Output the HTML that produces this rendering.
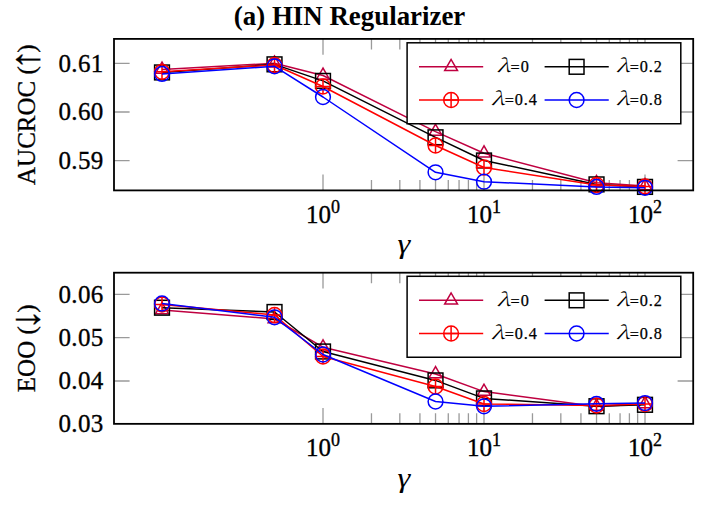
<!DOCTYPE html>
<html><head><meta charset="utf-8"><title>HIN Regularizer</title>
<style>html,body{margin:0;padding:0;background:#fff;}svg{display:block;}</style></head>
<body>
<svg width="720" height="506" viewBox="0 0 720 506">
<rect width="720" height="506" fill="#fff"/>
<text x="233.8" y="25.4" font-size="26.5" font-weight="bold" textLength="231.5" lengthAdjust="spacingAndGlyphs" style="font-family:'Liberation Serif',serif">(a) HIN Regularizer</text>
<path d="M323 190.4V174.6M323 38.9V54.7M484 190.4V174.6M484 38.9V54.7M645 190.4V174.6M645 38.9V54.7M371.47 190.4V179.9M371.47 38.9V49.4M399.82 190.4V179.9M399.82 38.9V49.4M419.93 190.4V179.9M419.93 38.9V49.4M435.53 190.4V179.9M435.53 38.9V49.4M448.28 190.4V179.9M448.28 38.9V49.4M459.06 190.4V179.9M459.06 38.9V49.4M468.4 190.4V179.9M468.4 38.9V49.4M476.63 190.4V179.9M476.63 38.9V49.4M532.47 190.4V179.9M532.47 38.9V49.4M560.82 190.4V179.9M560.82 38.9V49.4M580.93 190.4V179.9M580.93 38.9V49.4M596.53 190.4V179.9M596.53 38.9V49.4M609.28 190.4V179.9M609.28 38.9V49.4M620.06 190.4V179.9M620.06 38.9V49.4M629.4 190.4V179.9M629.4 38.9V49.4M637.63 190.4V179.9M637.63 38.9V49.4M114 63.3H129.6M693.2 63.3H677.6M114 112H129.6M693.2 112H677.6M114 160.7H129.6M693.2 160.7H677.6" stroke="#9a9a9a" stroke-width="1.3" fill="none"/>
<polyline points="162,69.5 274.53,63.3 323,75.5 435.53,131.6 484,153.2 596.53,182.8 645,186" fill="none" stroke="#bf0040" stroke-width="1.5" stroke-linejoin="round"/>
<polygon points="162,62.1 155.59,73.2 168.41,73.2" fill="none" stroke="#bf0040" stroke-width="1.5"/>
<polygon points="274.53,55.9 268.13,67 280.94,67" fill="none" stroke="#bf0040" stroke-width="1.5"/>
<polygon points="323,68.1 316.59,79.2 329.41,79.2" fill="none" stroke="#bf0040" stroke-width="1.5"/>
<polygon points="435.53,124.2 429.13,135.3 441.94,135.3" fill="none" stroke="#bf0040" stroke-width="1.5"/>
<polygon points="484,145.8 477.59,156.9 490.41,156.9" fill="none" stroke="#bf0040" stroke-width="1.5"/>
<polygon points="596.53,175.4 590.13,186.5 602.94,186.5" fill="none" stroke="#bf0040" stroke-width="1.5"/>
<polygon points="645,178.6 638.59,189.7 651.41,189.7" fill="none" stroke="#bf0040" stroke-width="1.5"/>
<polyline points="162,72.45 274.53,64.35 323,80.9 435.53,137.3 484,160.5 596.53,184.4 645,186.9" fill="none" stroke="#000" stroke-width="1.5" stroke-linejoin="round"/>
<rect x="154.6" y="65.05" width="14.8" height="14.8" fill="none" stroke="#000" stroke-width="1.5"/>
<rect x="267.13" y="56.95" width="14.8" height="14.8" fill="none" stroke="#000" stroke-width="1.5"/>
<rect x="315.6" y="73.5" width="14.8" height="14.8" fill="none" stroke="#000" stroke-width="1.5"/>
<rect x="428.13" y="129.9" width="14.8" height="14.8" fill="none" stroke="#000" stroke-width="1.5"/>
<rect x="476.6" y="153.1" width="14.8" height="14.8" fill="none" stroke="#000" stroke-width="1.5"/>
<rect x="589.13" y="177" width="14.8" height="14.8" fill="none" stroke="#000" stroke-width="1.5"/>
<rect x="637.6" y="179.5" width="14.8" height="14.8" fill="none" stroke="#000" stroke-width="1.5"/>
<polyline points="162,71.8 274.53,65 323,86.5 435.53,145.5 484,167.5 596.53,185 645,186.4" fill="none" stroke="#ff0000" stroke-width="1.5" stroke-linejoin="round"/>
<circle cx="162" cy="71.8" r="7.4" fill="none" stroke="#ff0000" stroke-width="1.5"/><path d="M154.6 71.8H169.4M162 64.4V79.2" stroke="#ff0000" stroke-width="1.5"/>
<circle cx="274.53" cy="65" r="7.4" fill="none" stroke="#ff0000" stroke-width="1.5"/><path d="M267.13 65H281.93M274.53 57.6V72.4" stroke="#ff0000" stroke-width="1.5"/>
<circle cx="323" cy="86.5" r="7.4" fill="none" stroke="#ff0000" stroke-width="1.5"/><path d="M315.6 86.5H330.4M323 79.1V93.9" stroke="#ff0000" stroke-width="1.5"/>
<circle cx="435.53" cy="145.5" r="7.4" fill="none" stroke="#ff0000" stroke-width="1.5"/><path d="M428.13 145.5H442.93M435.53 138.1V152.9" stroke="#ff0000" stroke-width="1.5"/>
<circle cx="484" cy="167.5" r="7.4" fill="none" stroke="#ff0000" stroke-width="1.5"/><path d="M476.6 167.5H491.4M484 160.1V174.9" stroke="#ff0000" stroke-width="1.5"/>
<circle cx="596.53" cy="185" r="7.4" fill="none" stroke="#ff0000" stroke-width="1.5"/><path d="M589.13 185H603.93M596.53 177.6V192.4" stroke="#ff0000" stroke-width="1.5"/>
<circle cx="645" cy="186.4" r="7.4" fill="none" stroke="#ff0000" stroke-width="1.5"/><path d="M637.6 186.4H652.4M645 179V193.8" stroke="#ff0000" stroke-width="1.5"/>
<polyline points="162,73.9 274.53,66.3 323,97 435.53,172.3 484,181.7 596.53,186.9 645,187.8" fill="none" stroke="#0000ff" stroke-width="1.5" stroke-linejoin="round"/>
<circle cx="162" cy="73.9" r="7.4" fill="none" stroke="#0000ff" stroke-width="1.5"/>
<circle cx="274.53" cy="66.3" r="7.4" fill="none" stroke="#0000ff" stroke-width="1.5"/>
<circle cx="323" cy="97" r="7.4" fill="none" stroke="#0000ff" stroke-width="1.5"/>
<circle cx="435.53" cy="172.3" r="7.4" fill="none" stroke="#0000ff" stroke-width="1.5"/>
<circle cx="484" cy="181.7" r="7.4" fill="none" stroke="#0000ff" stroke-width="1.5"/>
<circle cx="596.53" cy="186.9" r="7.4" fill="none" stroke="#0000ff" stroke-width="1.5"/>
<circle cx="645" cy="187.8" r="7.4" fill="none" stroke="#0000ff" stroke-width="1.5"/>
<rect x="114" y="38.9" width="579.2" height="151.5" fill="none" stroke="#000" stroke-width="1.8"/>
<rect x="407.1" y="42.8" width="273.7" height="80.95" fill="#fff" stroke="#000" stroke-width="1.5"/>
<path d="M419 66.8H483.2" stroke="#bf0040" stroke-width="1.5"/>
<polygon points="451.1,59.4 444.69,70.5 457.51,70.5" fill="none" stroke="#bf0040" stroke-width="1.5"/>
<text transform="translate(496.8 72.1) scale(1.3 1)" font-style="italic" font-size="18.3" style="font-family:'Noto Serif CJK JP','Liberation Serif',serif">λ</text>
<text x="510.6" y="72.1" font-size="16.2" letter-spacing="0.95" stroke="#000" stroke-width="0.25" style="font-family:'Liberation Serif',serif"><tspan dy="0.9">=</tspan><tspan dy="-0.9">0</tspan></text>
<path d="M544.6 66.8H608.75" stroke="#000" stroke-width="1.5"/>
<rect x="569.2" y="59.4" width="14.8" height="14.8" fill="none" stroke="#000" stroke-width="1.5"/>
<text transform="translate(615.9 72.1) scale(1.3 1)" font-style="italic" font-size="18.3" style="font-family:'Noto Serif CJK JP','Liberation Serif',serif">λ</text>
<text x="629.7" y="72.1" font-size="16.2" letter-spacing="0.95" stroke="#000" stroke-width="0.25" style="font-family:'Liberation Serif',serif"><tspan dy="0.9">=</tspan><tspan dy="-0.9">0.2</tspan></text>
<path d="M419 100H483.2" stroke="#ff0000" stroke-width="1.5"/>
<circle cx="451.1" cy="100" r="7.4" fill="none" stroke="#ff0000" stroke-width="1.5"/><path d="M443.7 100H458.5M451.1 92.6V107.4" stroke="#ff0000" stroke-width="1.5"/>
<text transform="translate(490.9 105.3) scale(1.3 1)" font-style="italic" font-size="18.3" style="font-family:'Noto Serif CJK JP','Liberation Serif',serif">λ</text>
<text x="504.7" y="105.3" font-size="16.2" letter-spacing="0.95" stroke="#000" stroke-width="0.25" style="font-family:'Liberation Serif',serif"><tspan dy="0.9">=</tspan><tspan dy="-0.9">0.4</tspan></text>
<path d="M544.6 100H608.75" stroke="#0000ff" stroke-width="1.5"/>
<circle cx="576.6" cy="100" r="7.4" fill="none" stroke="#0000ff" stroke-width="1.5"/>
<text transform="translate(615.9 105.3) scale(1.3 1)" font-style="italic" font-size="18.3" style="font-family:'Noto Serif CJK JP','Liberation Serif',serif">λ</text>
<text x="629.7" y="105.3" font-size="16.2" letter-spacing="0.95" stroke="#000" stroke-width="0.25" style="font-family:'Liberation Serif',serif"><tspan dy="0.9">=</tspan><tspan dy="-0.9">0.8</tspan></text>
<text x="103.5" y="71.6" text-anchor="end" font-size="25" letter-spacing="0.3" stroke="#000" stroke-width="0.35" style="font-family:'Liberation Serif',serif">0.61</text>
<text x="103.5" y="120.3" text-anchor="end" font-size="25" letter-spacing="0.3" stroke="#000" stroke-width="0.35" style="font-family:'Liberation Serif',serif">0.60</text>
<text x="103.5" y="169" text-anchor="end" font-size="25" letter-spacing="0.3" stroke="#000" stroke-width="0.35" style="font-family:'Liberation Serif',serif">0.59</text>
<text x="323" y="222.7" text-anchor="middle" stroke="#000" stroke-width="0.35" style="font-family:'Liberation Serif',serif"><tspan font-size="25">10</tspan><tspan font-size="18" dy="-10">0</tspan></text>
<text x="484" y="222.7" text-anchor="middle" stroke="#000" stroke-width="0.35" style="font-family:'Liberation Serif',serif"><tspan font-size="25">10</tspan><tspan font-size="18" dy="-10">1</tspan></text>
<text x="645" y="222.7" text-anchor="middle" stroke="#000" stroke-width="0.35" style="font-family:'Liberation Serif',serif"><tspan font-size="25">10</tspan><tspan font-size="18" dy="-10">2</tspan></text>
<text transform="translate(404 253.4) scale(1.2 1)" text-anchor="middle" font-size="27" font-style="italic" style="font-family:'Liberation Serif',serif">γ</text>
<text transform="translate(35 114.65) rotate(-90)" text-anchor="middle" font-size="25" stroke="#000" stroke-width="0.3" style="font-family:'Liberation Serif',serif">AUCROC (<tspan font-size="41" dx="-3.5" dy="3.5">↑</tspan><tspan dx="-3.5" dy="-3.5">)</tspan></text>
<path d="M323 423.85V408.05M323 272.7V288.5M484 423.85V408.05M484 272.7V288.5M645 423.85V408.05M645 272.7V288.5M371.47 423.85V413.35M371.47 272.7V283.2M399.82 423.85V413.35M399.82 272.7V283.2M419.93 423.85V413.35M419.93 272.7V283.2M435.53 423.85V413.35M435.53 272.7V283.2M448.28 423.85V413.35M448.28 272.7V283.2M459.06 423.85V413.35M459.06 272.7V283.2M468.4 423.85V413.35M468.4 272.7V283.2M476.63 423.85V413.35M476.63 272.7V283.2M532.47 423.85V413.35M532.47 272.7V283.2M560.82 423.85V413.35M560.82 272.7V283.2M580.93 423.85V413.35M580.93 272.7V283.2M596.53 423.85V413.35M596.53 272.7V283.2M609.28 423.85V413.35M609.28 272.7V283.2M620.06 423.85V413.35M620.06 272.7V283.2M629.4 423.85V413.35M629.4 272.7V283.2M637.63 423.85V413.35M637.63 272.7V283.2M114 294.4H129.6M693.2 294.4H677.6M114 337.7H129.6M693.2 337.7H677.6M114 381H129.6M693.2 381H677.6" stroke="#9a9a9a" stroke-width="1.3" fill="none"/>
<polyline points="162,310 274.53,319 323,347.2 435.53,374 484,391.6 596.53,406.5 645,404" fill="none" stroke="#bf0040" stroke-width="1.5" stroke-linejoin="round"/>
<polygon points="162,302.6 155.59,313.7 168.41,313.7" fill="none" stroke="#bf0040" stroke-width="1.5"/>
<polygon points="274.53,311.6 268.13,322.7 280.94,322.7" fill="none" stroke="#bf0040" stroke-width="1.5"/>
<polygon points="323,339.8 316.59,350.9 329.41,350.9" fill="none" stroke="#bf0040" stroke-width="1.5"/>
<polygon points="435.53,366.6 429.13,377.7 441.94,377.7" fill="none" stroke="#bf0040" stroke-width="1.5"/>
<polygon points="484,384.2 477.59,395.3 490.41,395.3" fill="none" stroke="#bf0040" stroke-width="1.5"/>
<polygon points="596.53,399.1 590.13,410.2 602.94,410.2" fill="none" stroke="#bf0040" stroke-width="1.5"/>
<polygon points="645,396.6 638.59,407.7 651.41,407.7" fill="none" stroke="#bf0040" stroke-width="1.5"/>
<polyline points="162,307.7 274.53,312 323,351.5 435.53,380.4 484,398.4 596.53,406.2 645,404.8" fill="none" stroke="#000" stroke-width="1.5" stroke-linejoin="round"/>
<rect x="154.6" y="300.3" width="14.8" height="14.8" fill="none" stroke="#000" stroke-width="1.5"/>
<rect x="267.13" y="304.6" width="14.8" height="14.8" fill="none" stroke="#000" stroke-width="1.5"/>
<rect x="315.6" y="344.1" width="14.8" height="14.8" fill="none" stroke="#000" stroke-width="1.5"/>
<rect x="428.13" y="373" width="14.8" height="14.8" fill="none" stroke="#000" stroke-width="1.5"/>
<rect x="476.6" y="391" width="14.8" height="14.8" fill="none" stroke="#000" stroke-width="1.5"/>
<rect x="589.13" y="398.8" width="14.8" height="14.8" fill="none" stroke="#000" stroke-width="1.5"/>
<rect x="637.6" y="397.4" width="14.8" height="14.8" fill="none" stroke="#000" stroke-width="1.5"/>
<polyline points="162,304.5 274.53,315 323,356.5 435.53,386.5 484,404 596.53,405.5 645,404" fill="none" stroke="#ff0000" stroke-width="1.5" stroke-linejoin="round"/>
<circle cx="162" cy="304.5" r="7.4" fill="none" stroke="#ff0000" stroke-width="1.5"/><path d="M154.6 304.5H169.4M162 297.1V311.9" stroke="#ff0000" stroke-width="1.5"/>
<circle cx="274.53" cy="315" r="7.4" fill="none" stroke="#ff0000" stroke-width="1.5"/><path d="M267.13 315H281.93M274.53 307.6V322.4" stroke="#ff0000" stroke-width="1.5"/>
<circle cx="323" cy="356.5" r="7.4" fill="none" stroke="#ff0000" stroke-width="1.5"/><path d="M315.6 356.5H330.4M323 349.1V363.9" stroke="#ff0000" stroke-width="1.5"/>
<circle cx="435.53" cy="386.5" r="7.4" fill="none" stroke="#ff0000" stroke-width="1.5"/><path d="M428.13 386.5H442.93M435.53 379.1V393.9" stroke="#ff0000" stroke-width="1.5"/>
<circle cx="484" cy="404" r="7.4" fill="none" stroke="#ff0000" stroke-width="1.5"/><path d="M476.6 404H491.4M484 396.6V411.4" stroke="#ff0000" stroke-width="1.5"/>
<circle cx="596.53" cy="405.5" r="7.4" fill="none" stroke="#ff0000" stroke-width="1.5"/><path d="M589.13 405.5H603.93M596.53 398.1V412.9" stroke="#ff0000" stroke-width="1.5"/>
<circle cx="645" cy="404" r="7.4" fill="none" stroke="#ff0000" stroke-width="1.5"/><path d="M637.6 404H652.4M645 396.6V411.4" stroke="#ff0000" stroke-width="1.5"/>
<polyline points="162,303.5 274.53,317.3 323,354.5 435.53,401.5 484,406.3 596.53,403.8 645,403.1" fill="none" stroke="#0000ff" stroke-width="1.5" stroke-linejoin="round"/>
<circle cx="162" cy="303.5" r="7.4" fill="none" stroke="#0000ff" stroke-width="1.5"/>
<circle cx="274.53" cy="317.3" r="7.4" fill="none" stroke="#0000ff" stroke-width="1.5"/>
<circle cx="323" cy="354.5" r="7.4" fill="none" stroke="#0000ff" stroke-width="1.5"/>
<circle cx="435.53" cy="401.5" r="7.4" fill="none" stroke="#0000ff" stroke-width="1.5"/>
<circle cx="484" cy="406.3" r="7.4" fill="none" stroke="#0000ff" stroke-width="1.5"/>
<circle cx="596.53" cy="403.8" r="7.4" fill="none" stroke="#0000ff" stroke-width="1.5"/>
<circle cx="645" cy="403.1" r="7.4" fill="none" stroke="#0000ff" stroke-width="1.5"/>
<rect x="114" y="272.7" width="579.2" height="151.15" fill="none" stroke="#000" stroke-width="1.8"/>
<rect x="407.1" y="276.3" width="273.7" height="80.95" fill="#fff" stroke="#000" stroke-width="1.5"/>
<path d="M419 300.3H483.2" stroke="#bf0040" stroke-width="1.5"/>
<polygon points="451.1,292.9 444.69,304 457.51,304" fill="none" stroke="#bf0040" stroke-width="1.5"/>
<text transform="translate(496.8 305.6) scale(1.3 1)" font-style="italic" font-size="18.3" style="font-family:'Noto Serif CJK JP','Liberation Serif',serif">λ</text>
<text x="510.6" y="305.6" font-size="16.2" letter-spacing="0.95" stroke="#000" stroke-width="0.25" style="font-family:'Liberation Serif',serif"><tspan dy="0.9">=</tspan><tspan dy="-0.9">0</tspan></text>
<path d="M544.6 300.3H608.75" stroke="#000" stroke-width="1.5"/>
<rect x="569.2" y="292.9" width="14.8" height="14.8" fill="none" stroke="#000" stroke-width="1.5"/>
<text transform="translate(615.9 305.6) scale(1.3 1)" font-style="italic" font-size="18.3" style="font-family:'Noto Serif CJK JP','Liberation Serif',serif">λ</text>
<text x="629.7" y="305.6" font-size="16.2" letter-spacing="0.95" stroke="#000" stroke-width="0.25" style="font-family:'Liberation Serif',serif"><tspan dy="0.9">=</tspan><tspan dy="-0.9">0.2</tspan></text>
<path d="M419 333.5H483.2" stroke="#ff0000" stroke-width="1.5"/>
<circle cx="451.1" cy="333.5" r="7.4" fill="none" stroke="#ff0000" stroke-width="1.5"/><path d="M443.7 333.5H458.5M451.1 326.1V340.9" stroke="#ff0000" stroke-width="1.5"/>
<text transform="translate(490.9 338.8) scale(1.3 1)" font-style="italic" font-size="18.3" style="font-family:'Noto Serif CJK JP','Liberation Serif',serif">λ</text>
<text x="504.7" y="338.8" font-size="16.2" letter-spacing="0.95" stroke="#000" stroke-width="0.25" style="font-family:'Liberation Serif',serif"><tspan dy="0.9">=</tspan><tspan dy="-0.9">0.4</tspan></text>
<path d="M544.6 333.5H608.75" stroke="#0000ff" stroke-width="1.5"/>
<circle cx="576.6" cy="333.5" r="7.4" fill="none" stroke="#0000ff" stroke-width="1.5"/>
<text transform="translate(615.9 338.8) scale(1.3 1)" font-style="italic" font-size="18.3" style="font-family:'Noto Serif CJK JP','Liberation Serif',serif">λ</text>
<text x="629.7" y="338.8" font-size="16.2" letter-spacing="0.95" stroke="#000" stroke-width="0.25" style="font-family:'Liberation Serif',serif"><tspan dy="0.9">=</tspan><tspan dy="-0.9">0.8</tspan></text>
<text x="103.5" y="302.7" text-anchor="end" font-size="25" letter-spacing="0.3" stroke="#000" stroke-width="0.35" style="font-family:'Liberation Serif',serif">0.06</text>
<text x="103.5" y="346" text-anchor="end" font-size="25" letter-spacing="0.3" stroke="#000" stroke-width="0.35" style="font-family:'Liberation Serif',serif">0.05</text>
<text x="103.5" y="389.3" text-anchor="end" font-size="25" letter-spacing="0.3" stroke="#000" stroke-width="0.35" style="font-family:'Liberation Serif',serif">0.04</text>
<text x="103.5" y="432.15" text-anchor="end" font-size="25" letter-spacing="0.3" stroke="#000" stroke-width="0.35" style="font-family:'Liberation Serif',serif">0.03</text>
<text x="323" y="456.15" text-anchor="middle" stroke="#000" stroke-width="0.35" style="font-family:'Liberation Serif',serif"><tspan font-size="25">10</tspan><tspan font-size="18" dy="-10">0</tspan></text>
<text x="484" y="456.15" text-anchor="middle" stroke="#000" stroke-width="0.35" style="font-family:'Liberation Serif',serif"><tspan font-size="25">10</tspan><tspan font-size="18" dy="-10">1</tspan></text>
<text x="645" y="456.15" text-anchor="middle" stroke="#000" stroke-width="0.35" style="font-family:'Liberation Serif',serif"><tspan font-size="25">10</tspan><tspan font-size="18" dy="-10">2</tspan></text>
<text transform="translate(404 486.85) scale(1.2 1)" text-anchor="middle" font-size="27" font-style="italic" style="font-family:'Liberation Serif',serif">γ</text>
<text transform="translate(35 348.27) rotate(-90)" text-anchor="middle" font-size="25" stroke="#000" stroke-width="0.3" style="font-family:'Liberation Serif',serif">EOO (<tspan font-size="41" dx="-3.5" dy="3.5">↓</tspan><tspan dx="-3.5" dy="-3.5">)</tspan></text>
</svg>
</body></html>
